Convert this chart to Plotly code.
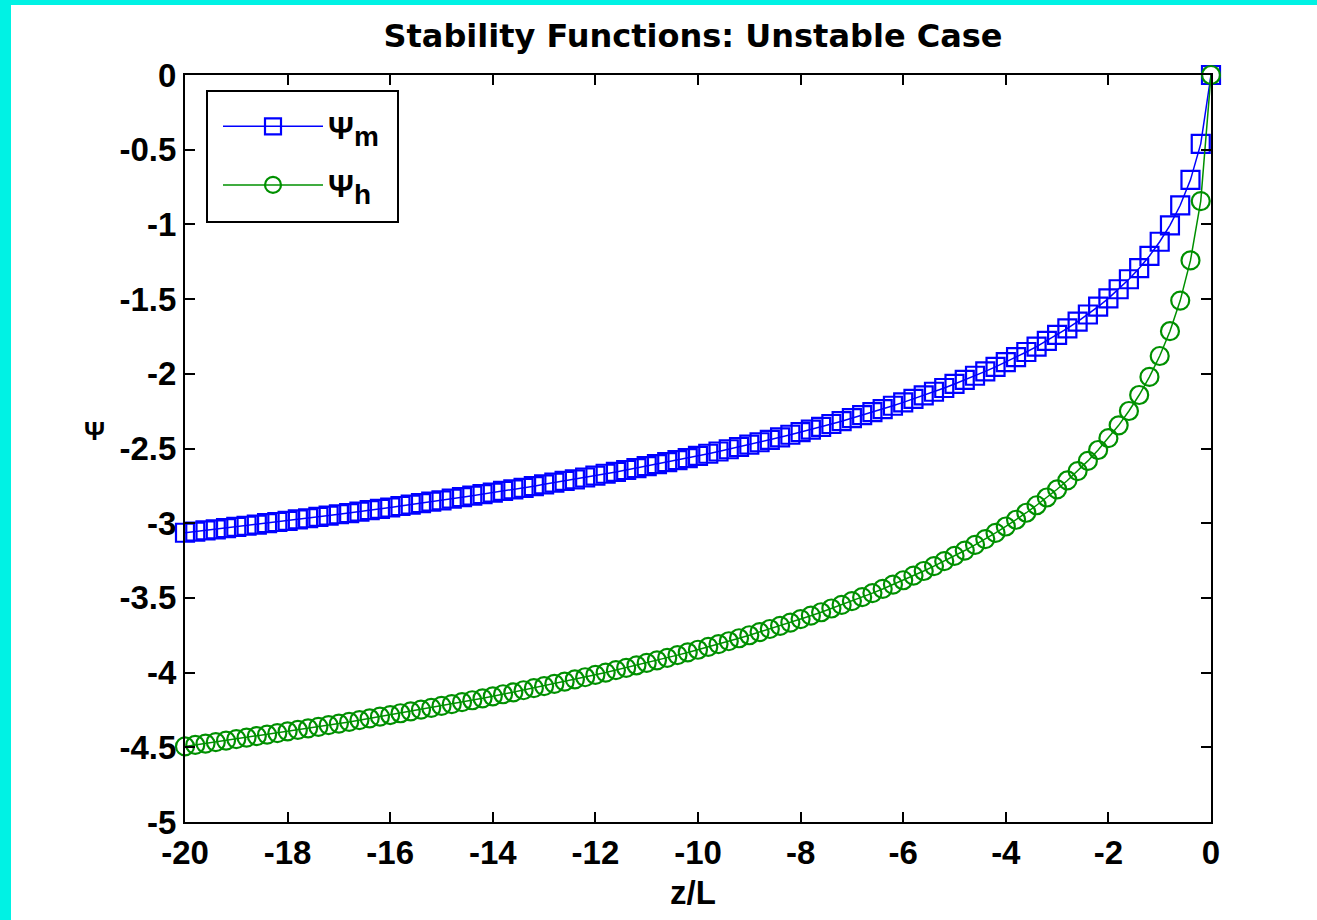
import plotly.graph_objects as go

# z/L values (unstable side)
z_over_L = [-20.0, -19.8, -19.6, -19.4, -19.2, -19.0, -18.8, -18.6, -18.4, -18.2,
            -18.0, -17.8, -17.6, -17.4, -17.2, -17.0, -16.8, -16.6, -16.4, -16.2,
            -16.0, -15.8, -15.6, -15.4, -15.2, -15.0, -14.8, -14.6, -14.4, -14.2,
            -14.0, -13.8, -13.6, -13.4, -13.2, -13.0, -12.8, -12.6, -12.4, -12.2,
            -12.0, -11.8, -11.6, -11.4, -11.2, -11.0, -10.8, -10.6, -10.4, -10.2,
            -10.0, -9.8, -9.6, -9.4, -9.2, -9.0, -8.8, -8.6, -8.4, -8.2,
            -8.0, -7.8, -7.6, -7.4, -7.2, -7.0, -6.8, -6.6, -6.4, -6.2,
            -6.0, -5.8, -5.6, -5.4, -5.2, -5.0, -4.8, -4.6, -4.4, -4.2,
            -4.0, -3.8, -3.6, -3.4, -3.2, -3.0, -2.8, -2.6, -2.4, -2.2,
            -2.0, -1.8, -1.6, -1.4, -1.2, -1.0, -0.8, -0.6, -0.4, -0.2,
            0.0]

psi_m = [-3.064, -3.056, -3.048, -3.041, -3.033, -3.025, -3.017, -3.009, -3.000, -2.992,
         -2.984, -2.975, -2.967, -2.958, -2.949, -2.940, -2.932, -2.923, -2.913, -2.904,
         -2.895, -2.885, -2.876, -2.866, -2.856, -2.847, -2.836, -2.826, -2.816, -2.806,
         -2.795, -2.784, -2.774, -2.763, -2.752, -2.740, -2.729, -2.717, -2.706, -2.694,
         -2.682, -2.669, -2.657, -2.644, -2.631, -2.618, -2.605, -2.591, -2.578, -2.564,
         -2.549, -2.535, -2.520, -2.505, -2.490, -2.474, -2.458, -2.442, -2.425, -2.408,
         -2.391, -2.373, -2.355, -2.336, -2.317, -2.297, -2.277, -2.257, -2.236, -2.214,
         -2.191, -2.168, -2.145, -2.120, -2.095, -2.068, -2.041, -2.013, -1.984, -1.954,
         -1.922, -1.889, -1.854, -1.818, -1.779, -1.739, -1.696, -1.651, -1.603, -1.551,
         -1.495, -1.434, -1.367, -1.293, -1.211, -1.116, -1.006, -0.872, -0.702, -0.461,
         0.0]

psi_h = [-4.494, -4.484, -4.475, -4.465, -4.455, -4.445, -4.435, -4.425, -4.415, -4.405,
         -4.394, -4.384, -4.373, -4.363, -4.352, -4.341, -4.330, -4.318, -4.307, -4.295,
         -4.284, -4.272, -4.260, -4.248, -4.236, -4.223, -4.211, -4.198, -4.185, -4.172,
         -4.159, -4.145, -4.132, -4.118, -4.104, -4.090, -4.075, -4.061, -4.046, -4.031,
         -4.015, -4.000, -3.984, -3.968, -3.951, -3.935, -3.918, -3.901, -3.883, -3.865,
         -3.847, -3.828, -3.809, -3.790, -3.770, -3.750, -3.729, -3.708, -3.687, -3.665,
         -3.642, -3.619, -3.596, -3.571, -3.547, -3.521, -3.495, -3.468, -3.440, -3.411,
         -3.382, -3.351, -3.320, -3.287, -3.254, -3.219, -3.183, -3.145, -3.106, -3.065,
         -3.022, -2.977, -2.930, -2.880, -2.828, -2.773, -2.714, -2.651, -2.583, -2.510,
         -2.431, -2.345, -2.249, -2.142, -2.021, -1.881, -1.715, -1.510, -1.241, -0.844,
         0.0]

series_names = ["Ψ<sub><span style='font-size:28px'>m</span></sub>",
                "Ψ<sub><span style='font-size:28px'>h</span></sub>"]

x_tick_vals = [-20, -18, -16, -14, -12, -10, -8, -6, -4, -2, 0]
x_tick_text = ["-20", "-18", "-16", "-14", "-12", "-10", "-8", "-6", "-4", "-2", "0"]
y_tick_vals = [0, -0.5, -1, -1.5, -2, -2.5, -3, -3.5, -4, -4.5, -5]
y_tick_text = ["0", "-0.5", "-1", "-1.5", "-2", "-2.5", "-3", "-3.5", "-4", "-4.5", "-5"]

title_text = "Stability Functions: Unstable Case"
x_label = "z/L"
y_label = "Ψ"

BLUE = "#0000FF"
GREEN = "#009000"
CYAN = "#00F2E4"
FONT = "Liberation Sans, Arial, Helvetica, sans-serif"

fig = go.Figure()
fig.add_trace(go.Scatter(
    x=z_over_L, y=psi_m, name=series_names[0], mode="lines+markers",
    legendgroup="m",
    line=dict(color=BLUE, width=1.5),
    marker=dict(symbol="square-open", size=18, color=BLUE, line=dict(width=2.2, color=BLUE)),
    cliponaxis=False,
))
fig.add_trace(go.Scatter(
    x=z_over_L, y=psi_h, name=series_names[1], mode="lines+markers",
    legendgroup="h",
    line=dict(color=GREEN, width=1.5),
    marker=dict(symbol="circle-open", size=18, color=GREEN, line=dict(width=2.2, color=GREEN)),
    cliponaxis=False,
))

W, H = 1317, 920
L, R, T, B = 185, 106, 75, 98
pw, ph = W - L - R, H - T - B

def px_to_paper_x(px):
    return (px - L) / pw

def px_to_paper_y(py):
    return (H - B - py) / ph

axis_common = dict(
    showline=True, linecolor="black", linewidth=2, mirror="allticks",
    ticks="inside", ticklen=10, tickwidth=2, tickcolor="black",
    showgrid=False, zeroline=False,
    tickfont=dict(family=FONT, size=33, color="black", weight="bold"),
)

fig.update_layout(
    width=W, height=H, autosize=False,
    margin=dict(l=L, r=R, t=T, b=B, pad=0),
    paper_bgcolor="white", plot_bgcolor="white",
    title=dict(text=title_text, x=693 / W, xanchor="center", y=1 - 36 / H, yanchor="middle",
               font=dict(family="DejaVu Sans, sans-serif", size=32, color="black", weight="bold")),
    xaxis=dict(range=[-20, 0], tickvals=x_tick_vals, ticktext=x_tick_text, **axis_common),
    yaxis=dict(range=[-5, 0], tickvals=y_tick_vals, ticktext=y_tick_text, **axis_common),
    showlegend=True,
    legend=dict(
        x=px_to_paper_x(218), y=px_to_paper_y(99), xanchor="left", yanchor="top",
        bgcolor="rgba(0,0,0,0)", borderwidth=0,
        font=dict(family=FONT, size=32, color="black", weight="bold"),
        traceorder="grouped", tracegroupgap=14, itemwidth=100,
    ),
    shapes=[
        # legend frame
        dict(type="rect", xref="paper", yref="paper", layer="above",
             x0=px_to_paper_x(207), x1=px_to_paper_x(398), y0=px_to_paper_y(222), y1=px_to_paper_y(91),
             fillcolor="rgba(0,0,0,0)", line=dict(width=2, color="black")),
        # cyan frame of the original screenshot
        dict(type="rect", xref="paper", yref="paper", layer="above",
             x0=px_to_paper_x(0), x1=px_to_paper_x(11), y0=px_to_paper_y(H), y1=px_to_paper_y(0),
             fillcolor=CYAN, line=dict(width=0)),
        dict(type="rect", xref="paper", yref="paper", layer="above",
             x0=px_to_paper_x(0), x1=px_to_paper_x(W), y0=px_to_paper_y(5), y1=px_to_paper_y(0),
             fillcolor=CYAN, line=dict(width=0)),
    ],
    annotations=[
        dict(text=x_label, xref="paper", yref="paper", x=px_to_paper_x(693), y=px_to_paper_y(892),
             xanchor="center", yanchor="middle", showarrow=False,
             font=dict(family=FONT, size=33, color="black", weight="bold")),
        dict(text=y_label, xref="paper", yref="paper", x=px_to_paper_x(94), y=px_to_paper_y(431),
             xanchor="center", yanchor="middle", showarrow=False,
             font=dict(family=FONT, size=26, color="black", weight="bold")),
    ],
)

fig.write_html("out.html", config={"displayModeBar": False},
               post_script="document.body.style.margin='0px';")
